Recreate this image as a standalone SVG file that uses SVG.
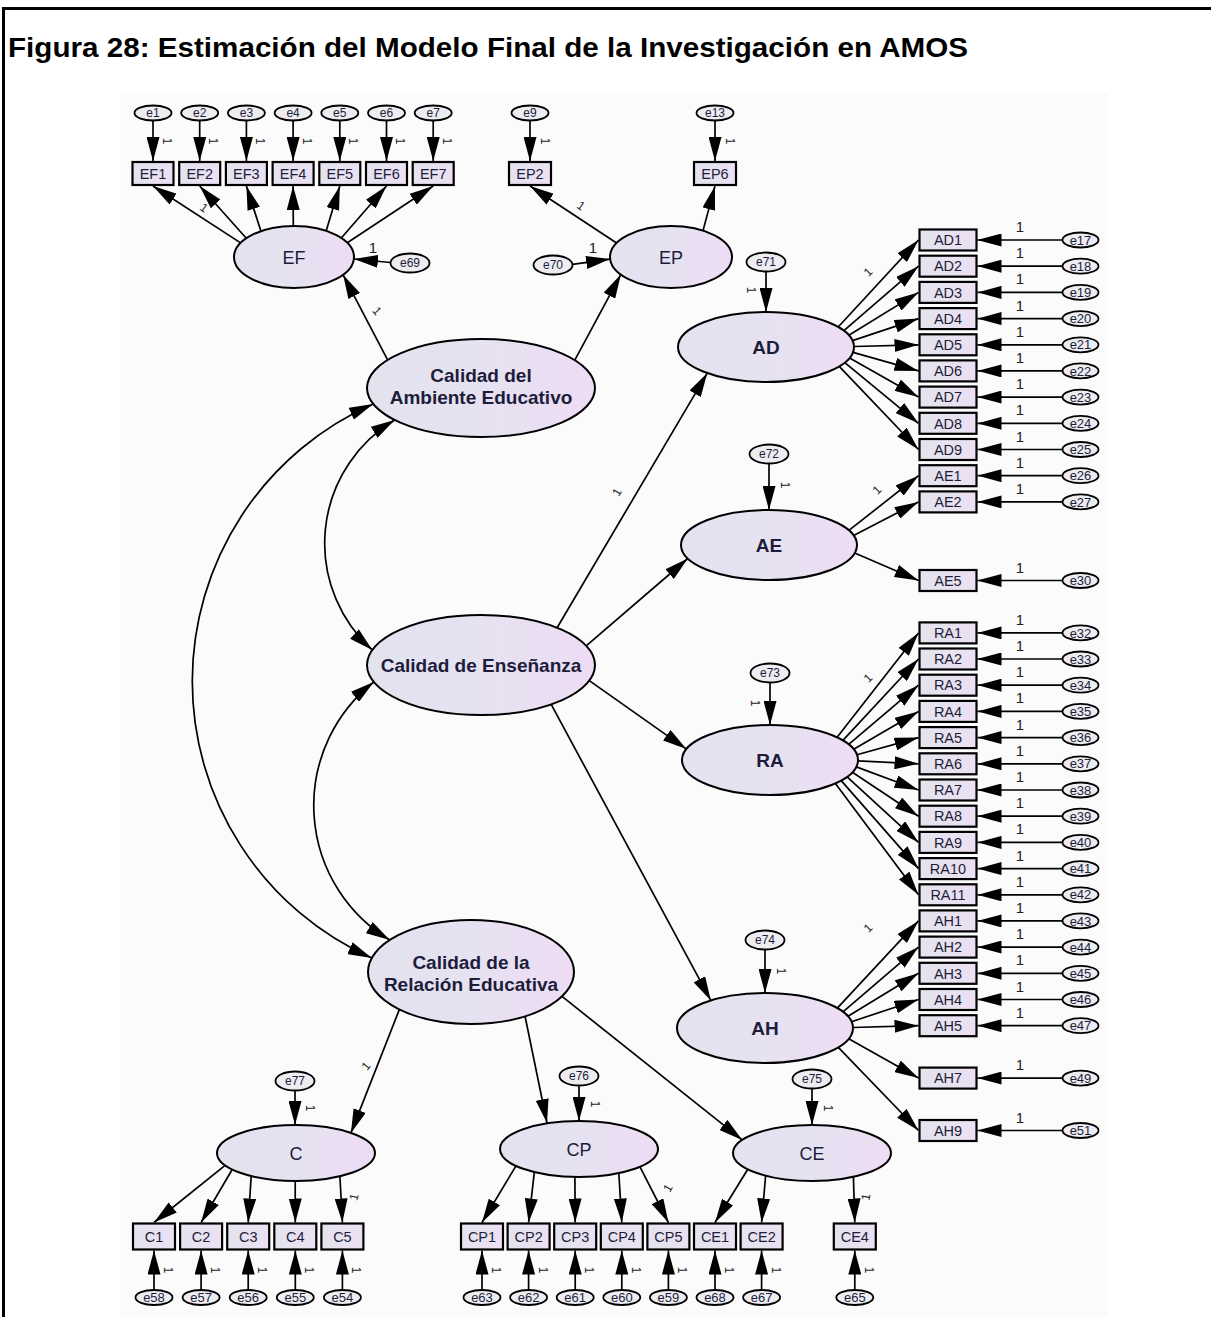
<svg xmlns="http://www.w3.org/2000/svg" width="1211" height="1317" viewBox="0 0 1211 1317">
<style>
text{font-family:"Liberation Sans",Arial,sans-serif}
.lat{fill:url(#gLat);stroke:#000;stroke-width:2}
.obs{fill:url(#gObs);stroke:#000;stroke-width:2.2}
.err{fill:#ececf1;stroke:#000;stroke-width:1.8}
.lb{fill:#1d1d3b;text-anchor:middle}
.tl{font-size:18px}
.tlb{font-size:19px;font-weight:bold}
.tf{font-size:19px;font-weight:bold}
.to{font-size:14.5px}
.te{font-size:12px}
.tr{font-size:13px}
.w{font-size:15px;fill:#222;text-anchor:middle}
.r{font-size:12px;fill:#222;text-anchor:middle}
.p{stroke:#000;stroke-width:1.7;fill:none;marker-end:url(#ah)}
.cv{stroke:#000;stroke-width:1.7;fill:none;marker-start:url(#ah);marker-end:url(#ah)}
</style>
<defs>
<linearGradient id="gLat" x1="0" y1="0" x2="1" y2="0">
<stop offset="0" stop-color="#e3e3ef"/><stop offset="0.5" stop-color="#e6e2f1"/><stop offset="1" stop-color="#eedcf4"/>
</linearGradient>
<linearGradient id="gObs" x1="0" y1="0" x2="1" y2="0">
<stop offset="0" stop-color="#e4e3ee"/><stop offset="1" stop-color="#ebe0f2"/>
</linearGradient>
<marker id="ah" viewBox="0 0 24 13" refX="24" refY="6.5" markerWidth="24" markerHeight="13" markerUnits="userSpaceOnUse" orient="auto-start-reverse">
<path d="M0,0L24,6.5L0,13z" fill="#000"/>
</marker>
</defs>

<rect x="0" y="0" width="1211" height="1317" fill="#fff"/>
<rect x="120" y="93" width="988" height="1224" fill="#fbfbfb"/>
<path d="M3.5,1317V8.5H1211" fill="none" stroke="#000" stroke-width="3"/>
<text x="8" y="57" font-size="27" font-weight="bold" fill="#000" textLength="960" lengthAdjust="spacingAndGlyphs">Figura 28: Estimación del Modelo Final de la Investigación en AMOS</text>

<g id="connectors">
<!-- error terms to EF / EP indicators -->
<path class="p" d="M153,120.5V161"/>
<path class="p" d="M199.7,120.5V161"/>
<path class="p" d="M246.4,120.5V161"/>
<path class="p" d="M293.1,120.5V161"/>
<path class="p" d="M339.8,120.5V161"/>
<path class="p" d="M386.5,120.5V161"/>
<path class="p" d="M433.2,120.5V161"/>
<path class="p" d="M530,120.5V161"/>
<path class="p" d="M715,120.5V161"/>
<!-- EF loadings -->
<path class="p" d="M240.6,242.9L153,186"/>
<path class="p" d="M246.3,238.2L199.7,186"/>
<path class="p" d="M260.9,231.1L246.4,186"/>
<path class="p" d="M293.3,226L293.1,186"/>
<path class="p" d="M326.2,230.8L339.8,186"/>
<path class="p" d="M341.3,238L386.5,186"/>
<path class="p" d="M347.3,242.8L433.2,186"/>
<path class="p" d="M390.5,262.5L354,259"/>
<!-- EP loadings -->
<path class="p" d="M572.5,264.4L610.1,259.1"/>
<path class="p" d="M616.6,243L530,186"/>
<path class="p" d="M703,230.6L715,186"/>
<!-- second order: ambiente -->
<path class="p" d="M387.6,359.9L343.1,274.8"/>
<path class="p" d="M574.8,360.2L620.8,274.6"/>
<!-- second order: ensenanza -->
<path class="p" d="M557.1,627.8L707.3,373.1"/>
<path class="p" d="M586.2,645.8L687.8,558.5"/>
<path class="p" d="M589.3,680.6L686.4,749.1"/>
<path class="p" d="M551.2,704.4L710.8,1000.4"/>
<!-- disturbances right -->
<path class="p" d="M766,271.5V312"/>
<path class="p" d="M769,463.5V510"/>
<path class="p" d="M770,682.5V725"/>
<path class="p" d="M765,949.5V993"/>
<!-- AD loadings -->
<path class="p" d="M838.2,327L918.5,240"/>
<path class="p" d="M843.9,330.7L918.5,266.2"/>
<path class="p" d="M848.9,335.3L918.5,292.4"/>
<path class="p" d="M852.5,340.6L918.5,318.6"/>
<path class="p" d="M854,346.5L918.5,344.8"/>
<path class="p" d="M853,352.4L918.5,370.9"/>
<path class="p" d="M849.6,357.9L918.5,397.1"/>
<path class="p" d="M844.8,362.6L918.5,423.3"/>
<path class="p" d="M839.2,366.4L918.5,449.5"/>
<!-- AE loadings -->
<path class="p" d="M848.9,530.4L918.5,475.7"/>
<path class="p" d="M853.6,535.4L918.5,501.9"/>
<path class="p" d="M854.7,553L918.5,580.5"/>
<!-- RA loadings -->
<path class="p" d="M837.1,737.3L918.5,632.9"/>
<path class="p" d="M842.9,740.4L918.5,659"/>
<path class="p" d="M848.7,744.3L918.5,685.2"/>
<path class="p" d="M853.7,749.2L918.5,711.4"/>
<path class="p" d="M857,754.8L918.5,737.6"/>
<path class="p" d="M858,760.9L918.5,763.8"/>
<path class="p" d="M856.3,766.9L918.5,790"/>
<path class="p" d="M852.4,772.3L918.5,816.2"/>
<path class="p" d="M847.1,776.9L918.5,842.4"/>
<path class="p" d="M841.2,780.6L918.5,868.6"/>
<path class="p" d="M835.4,783.4L918.5,894.8"/>
<!-- AH loadings -->
<path class="p" d="M837.3,1008.1L918.5,920.9"/>
<path class="p" d="M843,1011.8L918.5,947.1"/>
<path class="p" d="M848,1016.3L918.5,973.3"/>
<path class="p" d="M851.5,1021.7L918.5,999.5"/>
<path class="p" d="M853,1027.5L918.5,1025.7"/>
<path class="p" d="M848.7,1038.8L918.5,1078.1"/>
<path class="p" d="M838.3,1047.4L918.5,1130.5"/>
<!-- right error terms -->
<path class="p" d="M1062.5,240H977.5"/>
<path class="p" d="M1062.5,266.2H977.5"/>
<path class="p" d="M1062.5,292.4H977.5"/>
<path class="p" d="M1062.5,318.6H977.5"/>
<path class="p" d="M1062.5,344.8H977.5"/>
<path class="p" d="M1062.5,370.9H977.5"/>
<path class="p" d="M1062.5,397.1H977.5"/>
<path class="p" d="M1062.5,423.3H977.5"/>
<path class="p" d="M1062.5,449.5H977.5"/>
<path class="p" d="M1062.5,475.7H977.5"/>
<path class="p" d="M1062.5,501.9H977.5"/>
<path class="p" d="M1062.5,580.5H977.5"/>
<path class="p" d="M1062.5,632.9H977.5"/>
<path class="p" d="M1062.5,659H977.5"/>
<path class="p" d="M1062.5,685.2H977.5"/>
<path class="p" d="M1062.5,711.4H977.5"/>
<path class="p" d="M1062.5,737.6H977.5"/>
<path class="p" d="M1062.5,763.8H977.5"/>
<path class="p" d="M1062.5,790H977.5"/>
<path class="p" d="M1062.5,816.2H977.5"/>
<path class="p" d="M1062.5,842.4H977.5"/>
<path class="p" d="M1062.5,868.6H977.5"/>
<path class="p" d="M1062.5,894.8H977.5"/>
<path class="p" d="M1062.5,920.9H977.5"/>
<path class="p" d="M1062.5,947.1H977.5"/>
<path class="p" d="M1062.5,973.3H977.5"/>
<path class="p" d="M1062.5,999.5H977.5"/>
<path class="p" d="M1062.5,1025.7H977.5"/>
<path class="p" d="M1062.5,1078.1H977.5"/>
<path class="p" d="M1062.5,1130.5H977.5"/>
<!-- second order: relacion -->
<path class="p" d="M399.4,1009.4L350.9,1132.9"/>
<path class="p" d="M525,1016L547,1123"/>
<path class="p" d="M562,996.4L742.2,1139.9"/>
<path class="p" d="M295,1090.5V1125"/>
<path class="p" d="M579,1085.5V1121"/>
<path class="p" d="M812,1088.5V1125"/>
<!-- C loadings -->
<path class="p" d="M225.1,1165.3L154,1222.5"/>
<path class="p" d="M232.2,1169.5L201.1,1222.5"/>
<path class="p" d="M251.2,1176.1L248.2,1222.5"/>
<path class="p" d="M295.2,1181L295.3,1222.5"/>
<path class="p" d="M339.9,1176.3L342.4,1222.5"/>
<!-- CP loadings -->
<path class="p" d="M516,1165.9L482,1222.5"/>
<path class="p" d="M534.3,1172.1L528.6,1222.5"/>
<path class="p" d="M574.9,1177L575.2,1222.5"/>
<path class="p" d="M618.8,1173.2L621.8,1222.5"/>
<path class="p" d="M640,1166.8L668.4,1222.5"/>
<!-- CE loadings -->
<path class="p" d="M747.8,1169.3L715,1222.5"/>
<path class="p" d="M765.6,1175.7L761.6,1222.5"/>
<path class="p" d="M853.4,1176.8L854.8,1222.5"/>
<!-- bottom error terms -->
<path class="p" d="M154,1290V1250.5"/>
<path class="p" d="M201.1,1290V1250.5"/>
<path class="p" d="M248.2,1290V1250.5"/>
<path class="p" d="M295.3,1290V1250.5"/>
<path class="p" d="M342.4,1290V1250.5"/>
<path class="p" d="M482,1290V1250.5"/>
<path class="p" d="M528.6,1290V1250.5"/>
<path class="p" d="M575.2,1290V1250.5"/>
<path class="p" d="M621.8,1290V1250.5"/>
<path class="p" d="M668.4,1290V1250.5"/>
<path class="p" d="M715,1290V1250.5"/>
<path class="p" d="M761.6,1290V1250.5"/>
<path class="p" d="M854.8,1290V1250.5"/>
<!-- covariances -->
<path class="cv" d="M373.2,404A303,303 0 0 0 371.8,958"/>
<path class="cv" d="M394.7,420A143.5,143.5 0 0 0 372.3,650"/>
<path class="cv" d="M373.8,682A157,157 0 0 0 389.8,940"/>
</g>

<!-- latent variables -->
<g id="n-EF"><ellipse class="lat" cx="294" cy="257" rx="60" ry="31"/><text class="lb tl" x="294" y="263.5">EF</text></g>
<g id="n-EP"><ellipse class="lat" cx="671" cy="257" rx="61" ry="31"/><text class="lb tl" x="671" y="263.5">EP</text></g>
<g id="n-CAE"><ellipse class="lat" cx="481" cy="388" rx="114" ry="49"/><text class="lb tf" x="481" y="382">Calidad del</text><text class="lb tf" x="481" y="404">Ambiente Educativo</text></g>
<g id="n-CEN"><ellipse class="lat" cx="481" cy="665" rx="114" ry="50"/><text class="lb tf" x="481" y="672">Calidad de Enseñanza</text></g>
<g id="n-CRE"><ellipse class="lat" cx="471" cy="972" rx="103" ry="52"/><text class="lb tf" x="471" y="969">Calidad de la</text><text class="lb tf" x="471" y="991">Relación Educativa</text></g>
<g id="n-AD"><ellipse class="lat" cx="766" cy="347" rx="88" ry="35"/><text class="lb tlb" x="766" y="354">AD</text></g>
<g id="n-AE"><ellipse class="lat" cx="769" cy="545" rx="88" ry="35"/><text class="lb tlb" x="769" y="552">AE</text></g>
<g id="n-RA"><ellipse class="lat" cx="770" cy="760" rx="88" ry="35"/><text class="lb tlb" x="770" y="767">RA</text></g>
<g id="n-AH"><ellipse class="lat" cx="765" cy="1028" rx="88" ry="35"/><text class="lb tlb" x="765" y="1035">AH</text></g>
<g id="n-C"><ellipse class="lat" cx="296" cy="1153" rx="79" ry="28"/><text class="lb tl" x="296" y="1159.5">C</text></g>
<g id="n-CP"><ellipse class="lat" cx="579" cy="1149" rx="79" ry="28"/><text class="lb tl" x="579" y="1155.5">CP</text></g>
<g id="n-CE"><ellipse class="lat" cx="812" cy="1153" rx="79" ry="28"/><text class="lb tl" x="812" y="1159.5">CE</text></g>

<!-- disturbances -->
<g id="n-e69"><ellipse class="err" cx="410" cy="263" rx="19.5" ry="9.5"/><text class="lb te" x="410" y="267.2">e69</text></g>
<g id="n-e70"><ellipse class="err" cx="553" cy="265" rx="19.5" ry="9.5"/><text class="lb te" x="553" y="269.2">e70</text></g>
<g id="n-e71"><ellipse class="err" cx="766" cy="262" rx="19.5" ry="9.5"/><text class="lb te" x="766" y="266.2">e71</text></g>
<g id="n-e72"><ellipse class="err" cx="769" cy="454" rx="19.5" ry="9.5"/><text class="lb te" x="769" y="458.2">e72</text></g>
<g id="n-e73"><ellipse class="err" cx="770" cy="673" rx="19.5" ry="9.5"/><text class="lb te" x="770" y="677.2">e73</text></g>
<g id="n-e74"><ellipse class="err" cx="765" cy="940" rx="19.5" ry="9.5"/><text class="lb te" x="765" y="944.2">e74</text></g>
<g id="n-e77"><ellipse class="err" cx="295" cy="1081" rx="19.5" ry="9.5"/><text class="lb te" x="295" y="1085.2">e77</text></g>
<g id="n-e76"><ellipse class="err" cx="579" cy="1076" rx="19.5" ry="9.5"/><text class="lb te" x="579" y="1080.2">e76</text></g>
<g id="n-e75"><ellipse class="err" cx="812" cy="1079" rx="19.5" ry="9.5"/><text class="lb te" x="812" y="1083.2">e75</text></g>

<!-- EF / EP indicators -->
<g id="n-EF1"><rect class="obs" x="132.5" y="162" width="41" height="23"/><text class="lb to" x="153" y="178.8">EF1</text></g>
<g id="n-EF2"><rect class="obs" x="179.2" y="162" width="41" height="23"/><text class="lb to" x="199.7" y="178.8">EF2</text></g>
<g id="n-EF3"><rect class="obs" x="225.9" y="162" width="41" height="23"/><text class="lb to" x="246.4" y="178.8">EF3</text></g>
<g id="n-EF4"><rect class="obs" x="272.6" y="162" width="41" height="23"/><text class="lb to" x="293.1" y="178.8">EF4</text></g>
<g id="n-EF5"><rect class="obs" x="319.3" y="162" width="41" height="23"/><text class="lb to" x="339.8" y="178.8">EF5</text></g>
<g id="n-EF6"><rect class="obs" x="366" y="162" width="41" height="23"/><text class="lb to" x="386.5" y="178.8">EF6</text></g>
<g id="n-EF7"><rect class="obs" x="412.7" y="162" width="41" height="23"/><text class="lb to" x="433.2" y="178.8">EF7</text></g>
<g id="n-EP2"><rect class="obs" x="509" y="162" width="42" height="23"/><text class="lb to" x="530" y="178.8">EP2</text></g>
<g id="n-EP6"><rect class="obs" x="694" y="162" width="42" height="23"/><text class="lb to" x="715" y="178.8">EP6</text></g>
<g id="n-e1"><ellipse class="err" cx="153" cy="113" rx="18.5" ry="7.5"/><text class="lb te" x="153" y="117.2">e1</text></g>
<g id="n-e2"><ellipse class="err" cx="199.7" cy="113" rx="18.5" ry="7.5"/><text class="lb te" x="199.7" y="117.2">e2</text></g>
<g id="n-e3"><ellipse class="err" cx="246.4" cy="113" rx="18.5" ry="7.5"/><text class="lb te" x="246.4" y="117.2">e3</text></g>
<g id="n-e4"><ellipse class="err" cx="293.1" cy="113" rx="18.5" ry="7.5"/><text class="lb te" x="293.1" y="117.2">e4</text></g>
<g id="n-e5"><ellipse class="err" cx="339.8" cy="113" rx="18.5" ry="7.5"/><text class="lb te" x="339.8" y="117.2">e5</text></g>
<g id="n-e6"><ellipse class="err" cx="386.5" cy="113" rx="18.5" ry="7.5"/><text class="lb te" x="386.5" y="117.2">e6</text></g>
<g id="n-e7"><ellipse class="err" cx="433.2" cy="113" rx="18.5" ry="7.5"/><text class="lb te" x="433.2" y="117.2">e7</text></g>
<g id="n-e9"><ellipse class="err" cx="530" cy="113" rx="18.5" ry="7.5"/><text class="lb te" x="530" y="117.2">e9</text></g>
<g id="n-e13"><ellipse class="err" cx="715" cy="113" rx="18.5" ry="7.5"/><text class="lb te" x="715" y="117.2">e13</text></g>

<!-- right indicators -->
<g id="n-AD1"><rect class="obs" x="919.5" y="229.5" width="57" height="21"/><text class="lb to" x="948" y="245.2">AD1</text></g>
<g id="n-AD2"><rect class="obs" x="919.5" y="255.7" width="57" height="21"/><text class="lb to" x="948" y="271.4">AD2</text></g>
<g id="n-AD3"><rect class="obs" x="919.5" y="281.9" width="57" height="21"/><text class="lb to" x="948" y="297.6">AD3</text></g>
<g id="n-AD4"><rect class="obs" x="919.5" y="308.1" width="57" height="21"/><text class="lb to" x="948" y="323.8">AD4</text></g>
<g id="n-AD5"><rect class="obs" x="919.5" y="334.3" width="57" height="21"/><text class="lb to" x="948" y="350">AD5</text></g>
<g id="n-AD6"><rect class="obs" x="919.5" y="360.4" width="57" height="21"/><text class="lb to" x="948" y="376.1">AD6</text></g>
<g id="n-AD7"><rect class="obs" x="919.5" y="386.6" width="57" height="21"/><text class="lb to" x="948" y="402.3">AD7</text></g>
<g id="n-AD8"><rect class="obs" x="919.5" y="412.8" width="57" height="21"/><text class="lb to" x="948" y="428.5">AD8</text></g>
<g id="n-AD9"><rect class="obs" x="919.5" y="439" width="57" height="21"/><text class="lb to" x="948" y="454.7">AD9</text></g>
<g id="n-AE1"><rect class="obs" x="919.5" y="465.2" width="57" height="21"/><text class="lb to" x="948" y="480.9">AE1</text></g>
<g id="n-AE2"><rect class="obs" x="919.5" y="491.4" width="57" height="21"/><text class="lb to" x="948" y="507.1">AE2</text></g>
<g id="n-AE5"><rect class="obs" x="919.5" y="570" width="57" height="21"/><text class="lb to" x="948" y="585.7">AE5</text></g>
<g id="n-RA1"><rect class="obs" x="919.5" y="622.4" width="57" height="21"/><text class="lb to" x="948" y="638.1">RA1</text></g>
<g id="n-RA2"><rect class="obs" x="919.5" y="648.5" width="57" height="21"/><text class="lb to" x="948" y="664.2">RA2</text></g>
<g id="n-RA3"><rect class="obs" x="919.5" y="674.7" width="57" height="21"/><text class="lb to" x="948" y="690.4">RA3</text></g>
<g id="n-RA4"><rect class="obs" x="919.5" y="700.9" width="57" height="21"/><text class="lb to" x="948" y="716.6">RA4</text></g>
<g id="n-RA5"><rect class="obs" x="919.5" y="727.1" width="57" height="21"/><text class="lb to" x="948" y="742.8">RA5</text></g>
<g id="n-RA6"><rect class="obs" x="919.5" y="753.3" width="57" height="21"/><text class="lb to" x="948" y="769">RA6</text></g>
<g id="n-RA7"><rect class="obs" x="919.5" y="779.5" width="57" height="21"/><text class="lb to" x="948" y="795.2">RA7</text></g>
<g id="n-RA8"><rect class="obs" x="919.5" y="805.7" width="57" height="21"/><text class="lb to" x="948" y="821.4">RA8</text></g>
<g id="n-RA9"><rect class="obs" x="919.5" y="831.9" width="57" height="21"/><text class="lb to" x="948" y="847.6">RA9</text></g>
<g id="n-RA10"><rect class="obs" x="919.5" y="858.1" width="57" height="21"/><text class="lb to" x="948" y="873.8">RA10</text></g>
<g id="n-RA11"><rect class="obs" x="919.5" y="884.3" width="57" height="21"/><text class="lb to" x="948" y="900">RA11</text></g>
<g id="n-AH1"><rect class="obs" x="919.5" y="910.4" width="57" height="21"/><text class="lb to" x="948" y="926.1">AH1</text></g>
<g id="n-AH2"><rect class="obs" x="919.5" y="936.6" width="57" height="21"/><text class="lb to" x="948" y="952.3">AH2</text></g>
<g id="n-AH3"><rect class="obs" x="919.5" y="962.8" width="57" height="21"/><text class="lb to" x="948" y="978.5">AH3</text></g>
<g id="n-AH4"><rect class="obs" x="919.5" y="989" width="57" height="21"/><text class="lb to" x="948" y="1004.7">AH4</text></g>
<g id="n-AH5"><rect class="obs" x="919.5" y="1015.2" width="57" height="21"/><text class="lb to" x="948" y="1030.9">AH5</text></g>
<g id="n-AH7"><rect class="obs" x="919.5" y="1067.6" width="57" height="21"/><text class="lb to" x="948" y="1083.3">AH7</text></g>
<g id="n-AH9"><rect class="obs" x="919.5" y="1120" width="57" height="21"/><text class="lb to" x="948" y="1135.7">AH9</text></g>

<g id="n-e17"><ellipse class="err" cx="1080.5" cy="240" rx="18" ry="7.5"/><text class="lb tr" x="1080.5" y="244.6">e17</text></g>
<g id="n-e18"><ellipse class="err" cx="1080.5" cy="266.2" rx="18" ry="7.5"/><text class="lb tr" x="1080.5" y="270.8">e18</text></g>
<g id="n-e19"><ellipse class="err" cx="1080.5" cy="292.4" rx="18" ry="7.5"/><text class="lb tr" x="1080.5" y="297">e19</text></g>
<g id="n-e20"><ellipse class="err" cx="1080.5" cy="318.6" rx="18" ry="7.5"/><text class="lb tr" x="1080.5" y="323.2">e20</text></g>
<g id="n-e21"><ellipse class="err" cx="1080.5" cy="344.8" rx="18" ry="7.5"/><text class="lb tr" x="1080.5" y="349.4">e21</text></g>
<g id="n-e22"><ellipse class="err" cx="1080.5" cy="370.9" rx="18" ry="7.5"/><text class="lb tr" x="1080.5" y="375.5">e22</text></g>
<g id="n-e23"><ellipse class="err" cx="1080.5" cy="397.1" rx="18" ry="7.5"/><text class="lb tr" x="1080.5" y="401.7">e23</text></g>
<g id="n-e24"><ellipse class="err" cx="1080.5" cy="423.3" rx="18" ry="7.5"/><text class="lb tr" x="1080.5" y="427.9">e24</text></g>
<g id="n-e25"><ellipse class="err" cx="1080.5" cy="449.5" rx="18" ry="7.5"/><text class="lb tr" x="1080.5" y="454.1">e25</text></g>
<g id="n-e26"><ellipse class="err" cx="1080.5" cy="475.7" rx="18" ry="7.5"/><text class="lb tr" x="1080.5" y="480.3">e26</text></g>
<g id="n-e27"><ellipse class="err" cx="1080.5" cy="501.9" rx="18" ry="7.5"/><text class="lb tr" x="1080.5" y="506.5">e27</text></g>
<g id="n-e30"><ellipse class="err" cx="1080.5" cy="580.5" rx="18" ry="7.5"/><text class="lb tr" x="1080.5" y="585.1">e30</text></g>
<g id="n-e32"><ellipse class="err" cx="1080.5" cy="632.9" rx="18" ry="7.5"/><text class="lb tr" x="1080.5" y="637.5">e32</text></g>
<g id="n-e33"><ellipse class="err" cx="1080.5" cy="659" rx="18" ry="7.5"/><text class="lb tr" x="1080.5" y="663.6">e33</text></g>
<g id="n-e34"><ellipse class="err" cx="1080.5" cy="685.2" rx="18" ry="7.5"/><text class="lb tr" x="1080.5" y="689.8">e34</text></g>
<g id="n-e35"><ellipse class="err" cx="1080.5" cy="711.4" rx="18" ry="7.5"/><text class="lb tr" x="1080.5" y="716">e35</text></g>
<g id="n-e36"><ellipse class="err" cx="1080.5" cy="737.6" rx="18" ry="7.5"/><text class="lb tr" x="1080.5" y="742.2">e36</text></g>
<g id="n-e37"><ellipse class="err" cx="1080.5" cy="763.8" rx="18" ry="7.5"/><text class="lb tr" x="1080.5" y="768.4">e37</text></g>
<g id="n-e38"><ellipse class="err" cx="1080.5" cy="790" rx="18" ry="7.5"/><text class="lb tr" x="1080.5" y="794.6">e38</text></g>
<g id="n-e39"><ellipse class="err" cx="1080.5" cy="816.2" rx="18" ry="7.5"/><text class="lb tr" x="1080.5" y="820.8">e39</text></g>
<g id="n-e40"><ellipse class="err" cx="1080.5" cy="842.4" rx="18" ry="7.5"/><text class="lb tr" x="1080.5" y="847">e40</text></g>
<g id="n-e41"><ellipse class="err" cx="1080.5" cy="868.6" rx="18" ry="7.5"/><text class="lb tr" x="1080.5" y="873.2">e41</text></g>
<g id="n-e42"><ellipse class="err" cx="1080.5" cy="894.8" rx="18" ry="7.5"/><text class="lb tr" x="1080.5" y="899.4">e42</text></g>
<g id="n-e43"><ellipse class="err" cx="1080.5" cy="920.9" rx="18" ry="7.5"/><text class="lb tr" x="1080.5" y="925.5">e43</text></g>
<g id="n-e44"><ellipse class="err" cx="1080.5" cy="947.1" rx="18" ry="7.5"/><text class="lb tr" x="1080.5" y="951.7">e44</text></g>
<g id="n-e45"><ellipse class="err" cx="1080.5" cy="973.3" rx="18" ry="7.5"/><text class="lb tr" x="1080.5" y="977.9">e45</text></g>
<g id="n-e46"><ellipse class="err" cx="1080.5" cy="999.5" rx="18" ry="7.5"/><text class="lb tr" x="1080.5" y="1004.1">e46</text></g>
<g id="n-e47"><ellipse class="err" cx="1080.5" cy="1025.7" rx="18" ry="7.5"/><text class="lb tr" x="1080.5" y="1030.3">e47</text></g>
<g id="n-e49"><ellipse class="err" cx="1080.5" cy="1078.1" rx="18" ry="7.5"/><text class="lb tr" x="1080.5" y="1082.7">e49</text></g>
<g id="n-e51"><ellipse class="err" cx="1080.5" cy="1130.5" rx="18" ry="7.5"/><text class="lb tr" x="1080.5" y="1135.1">e51</text></g>

<!-- bottom indicators -->
<g id="n-C1"><rect class="obs" x="133" y="1223.5" width="42" height="26"/><text class="lb to" x="154" y="1241.8">C1</text></g>
<g id="n-C2"><rect class="obs" x="180.1" y="1223.5" width="42" height="26"/><text class="lb to" x="201.1" y="1241.8">C2</text></g>
<g id="n-C3"><rect class="obs" x="227.2" y="1223.5" width="42" height="26"/><text class="lb to" x="248.2" y="1241.8">C3</text></g>
<g id="n-C4"><rect class="obs" x="274.3" y="1223.5" width="42" height="26"/><text class="lb to" x="295.3" y="1241.8">C4</text></g>
<g id="n-C5"><rect class="obs" x="321.4" y="1223.5" width="42" height="26"/><text class="lb to" x="342.4" y="1241.8">C5</text></g>
<g id="n-CP1"><rect class="obs" x="461" y="1223.5" width="42" height="26"/><text class="lb to" x="482" y="1241.8">CP1</text></g>
<g id="n-CP2"><rect class="obs" x="507.6" y="1223.5" width="42" height="26"/><text class="lb to" x="528.6" y="1241.8">CP2</text></g>
<g id="n-CP3"><rect class="obs" x="554.2" y="1223.5" width="42" height="26"/><text class="lb to" x="575.2" y="1241.8">CP3</text></g>
<g id="n-CP4"><rect class="obs" x="600.8" y="1223.5" width="42" height="26"/><text class="lb to" x="621.8" y="1241.8">CP4</text></g>
<g id="n-CP5"><rect class="obs" x="647.4" y="1223.5" width="42" height="26"/><text class="lb to" x="668.4" y="1241.8">CP5</text></g>
<g id="n-CE1"><rect class="obs" x="694" y="1223.5" width="42" height="26"/><text class="lb to" x="715" y="1241.8">CE1</text></g>
<g id="n-CE2"><rect class="obs" x="740.6" y="1223.5" width="42" height="26"/><text class="lb to" x="761.6" y="1241.8">CE2</text></g>
<g id="n-CE4"><rect class="obs" x="833.8" y="1223.5" width="42" height="26"/><text class="lb to" x="854.8" y="1241.8">CE4</text></g>

<g id="n-e58"><ellipse class="err" cx="154" cy="1297.5" rx="18.5" ry="7.5"/><text class="lb tr" x="154" y="1302.1">e58</text></g>
<g id="n-e57"><ellipse class="err" cx="201.1" cy="1297.5" rx="18.5" ry="7.5"/><text class="lb tr" x="201.1" y="1302.1">e57</text></g>
<g id="n-e56"><ellipse class="err" cx="248.2" cy="1297.5" rx="18.5" ry="7.5"/><text class="lb tr" x="248.2" y="1302.1">e56</text></g>
<g id="n-e55"><ellipse class="err" cx="295.3" cy="1297.5" rx="18.5" ry="7.5"/><text class="lb tr" x="295.3" y="1302.1">e55</text></g>
<g id="n-e54"><ellipse class="err" cx="342.4" cy="1297.5" rx="18.5" ry="7.5"/><text class="lb tr" x="342.4" y="1302.1">e54</text></g>
<g id="n-e63"><ellipse class="err" cx="482" cy="1297.5" rx="18.5" ry="7.5"/><text class="lb tr" x="482" y="1302.1">e63</text></g>
<g id="n-e62"><ellipse class="err" cx="528.6" cy="1297.5" rx="18.5" ry="7.5"/><text class="lb tr" x="528.6" y="1302.1">e62</text></g>
<g id="n-e61"><ellipse class="err" cx="575.2" cy="1297.5" rx="18.5" ry="7.5"/><text class="lb tr" x="575.2" y="1302.1">e61</text></g>
<g id="n-e60"><ellipse class="err" cx="621.8" cy="1297.5" rx="18.5" ry="7.5"/><text class="lb tr" x="621.8" y="1302.1">e60</text></g>
<g id="n-e59"><ellipse class="err" cx="668.4" cy="1297.5" rx="18.5" ry="7.5"/><text class="lb tr" x="668.4" y="1302.1">e59</text></g>
<g id="n-e68"><ellipse class="err" cx="715" cy="1297.5" rx="18.5" ry="7.5"/><text class="lb tr" x="715" y="1302.1">e68</text></g>
<g id="n-e67"><ellipse class="err" cx="761.6" cy="1297.5" rx="18.5" ry="7.5"/><text class="lb tr" x="761.6" y="1302.1">e67</text></g>
<g id="n-e65"><ellipse class="err" cx="854.8" cy="1297.5" rx="18.5" ry="7.5"/><text class="lb tr" x="854.8" y="1302.1">e65</text></g>

<!-- fixed path weights -->
<g id="weights">
<text class="w" x="373" y="253">1</text>
<text class="w" x="593" y="253">1</text>
<text class="w" x="1020" y="232">1</text>
<text class="w" x="1020" y="258.2">1</text>
<text class="w" x="1020" y="284.4">1</text>
<text class="w" x="1020" y="310.6">1</text>
<text class="w" x="1020" y="336.8">1</text>
<text class="w" x="1020" y="362.9">1</text>
<text class="w" x="1020" y="389.1">1</text>
<text class="w" x="1020" y="415.3">1</text>
<text class="w" x="1020" y="441.5">1</text>
<text class="w" x="1020" y="467.7">1</text>
<text class="w" x="1020" y="493.9">1</text>
<text class="w" x="1020" y="572.5">1</text>
<text class="w" x="1020" y="624.9">1</text>
<text class="w" x="1020" y="651">1</text>
<text class="w" x="1020" y="677.2">1</text>
<text class="w" x="1020" y="703.4">1</text>
<text class="w" x="1020" y="729.6">1</text>
<text class="w" x="1020" y="755.8">1</text>
<text class="w" x="1020" y="782">1</text>
<text class="w" x="1020" y="808.2">1</text>
<text class="w" x="1020" y="834.4">1</text>
<text class="w" x="1020" y="860.6">1</text>
<text class="w" x="1020" y="886.8">1</text>
<text class="w" x="1020" y="912.9">1</text>
<text class="w" x="1020" y="939.1">1</text>
<text class="w" x="1020" y="965.3">1</text>
<text class="w" x="1020" y="991.5">1</text>
<text class="w" x="1020" y="1017.7">1</text>
<text class="w" x="1020" y="1070.1">1</text>
<text class="w" x="1020" y="1122.5">1</text>
<!-- rotated weights beside vertical error paths -->
<text class="r" transform="translate(166.5,141) rotate(90)" y="4">1</text>
<text class="r" transform="translate(213.2,141) rotate(90)" y="4">1</text>
<text class="r" transform="translate(259.9,141) rotate(90)" y="4">1</text>
<text class="r" transform="translate(306.6,141) rotate(90)" y="4">1</text>
<text class="r" transform="translate(353.3,141) rotate(90)" y="4">1</text>
<text class="r" transform="translate(400,141) rotate(90)" y="4">1</text>
<text class="r" transform="translate(446.7,141) rotate(90)" y="4">1</text>
<text class="r" transform="translate(544.5,141) rotate(90)" y="4">1</text>
<text class="r" transform="translate(729.5,141) rotate(90)" y="4">1</text>
<text class="r" transform="translate(751,290) rotate(90)" y="4">1</text>
<text class="r" transform="translate(785,485) rotate(90)" y="4">1</text>
<text class="r" transform="translate(755,703) rotate(90)" y="4">1</text>
<text class="r" transform="translate(781,971) rotate(90)" y="4">1</text>
<text class="r" transform="translate(310,1108) rotate(90)" y="4">1</text>
<text class="r" transform="translate(595,1104) rotate(90)" y="4">1</text>
<text class="r" transform="translate(828,1108) rotate(90)" y="4">1</text>
<text class="r" transform="translate(168,1270) rotate(90)" y="4">1</text>
<text class="r" transform="translate(215.1,1270) rotate(90)" y="4">1</text>
<text class="r" transform="translate(262.2,1270) rotate(90)" y="4">1</text>
<text class="r" transform="translate(309.3,1270) rotate(90)" y="4">1</text>
<text class="r" transform="translate(356.4,1270) rotate(90)" y="4">1</text>
<text class="r" transform="translate(496,1270) rotate(90)" y="4">1</text>
<text class="r" transform="translate(542.6,1270) rotate(90)" y="4">1</text>
<text class="r" transform="translate(589.2,1270) rotate(90)" y="4">1</text>
<text class="r" transform="translate(635.8,1270) rotate(90)" y="4">1</text>
<text class="r" transform="translate(682.4,1270) rotate(90)" y="4">1</text>
<text class="r" transform="translate(729,1270) rotate(90)" y="4">1</text>
<text class="r" transform="translate(775.6,1270) rotate(90)" y="4">1</text>
<text class="r" transform="translate(868.8,1270) rotate(90)" y="4">1</text>
<!-- rotated weights on loadings -->
<text class="r" transform="translate(204,208) rotate(35)" y="4">1</text>
<text class="r" transform="translate(581,206) rotate(35)" y="4">1</text>
<text class="r" transform="translate(377,311) rotate(50)" y="4">1</text>
<text class="r" transform="translate(617,492) rotate(-60)" y="4">1</text>
<text class="r" transform="translate(868,272) rotate(-45)" y="4">1</text>
<text class="r" transform="translate(877,490) rotate(-45)" y="4">1</text>
<text class="r" transform="translate(868,678) rotate(-45)" y="4">1</text>
<text class="r" transform="translate(868,928) rotate(-45)" y="4">1</text>
<text class="r" transform="translate(366,1066) rotate(-50)" y="4">1</text>
<text class="r" transform="translate(354,1197) rotate(-75)" y="4">1</text>
<text class="r" transform="translate(668,1188) rotate(-60)" y="4">1</text>
<text class="r" transform="translate(866,1197) rotate(-80)" y="4">1</text>
</g>
</svg>
